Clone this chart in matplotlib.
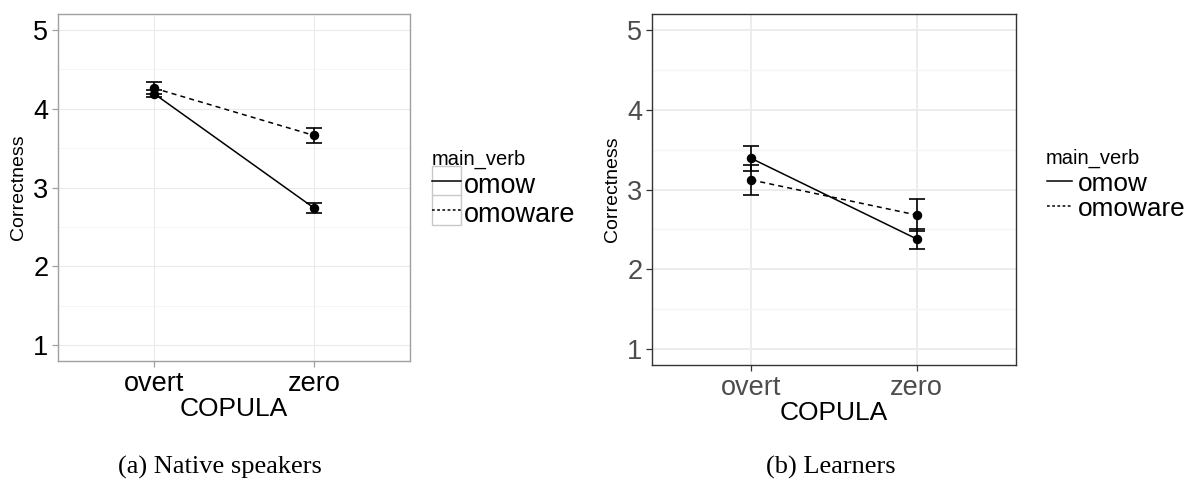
import numpy as np
import matplotlib.pyplot as plt
from matplotlib.lines import Line2D
from matplotlib.patches import Rectangle
from matplotlib.legend_handler import HandlerLine2D

plt.rcParams['font.family'] = ['Liberation Sans', 'DejaVu Sans']

copula = ['overt', 'zero']
verbs = ['omow', 'omoware']

# (a) native speakers
native_omow = [4.19, 2.74]
native_omow_se = [0.04, 0.065]
native_omoware = [4.26, 3.66]
native_omoware_se = [0.08, 0.09]

# (b) learners
learner_omow = [3.39, 2.38]
learner_omow_se = [0.16, 0.13]
learner_omoware = [3.12, 2.68]
learner_omoware_se = [0.19, 0.20]

y_ticks = [1, 2, 3, 4, 5]
captions = ['(a) Native speakers', '(b) Learners']

W, H = 1192, 482
DASH = (3.3, 2.7)


class BoxedKey(HandlerLine2D):
    # legend key with a light grey square around it, centred on the key line
    def create_artists(self, legend, orig_handle, xdescent, ydescent,
                       width, height, fontsize, trans):
        arts = super().create_artists(legend, orig_handle, xdescent, ydescent,
                                      width, height, fontsize, trans)
        yc = (height - ydescent) / 2.0
        box = Rectangle((-xdescent, yc - height / 2.0), width, height, transform=trans,
                        facecolor='white', edgecolor='#c8c8c8', lw=1.0)
        return [box] + arts


def px_axes(fig, x0, y0, x1, y1):
    return fig.add_axes([x0 / W, 1 - y1 / H, (x1 - x0) / W, (y1 - y0) / H])


def draw_panel(ax, series, tick_col, spine_col, grid_lw):
    x = np.arange(1, len(copula) + 1)
    for (mean, se), ls in zip(series, ['-', '--']):
        line, = ax.plot(x, mean, color='black', lw=1.1, ls=ls, zorder=3)
        if ls == '--':
            line.set_dashes(DASH)
        ax.errorbar(x, mean, yerr=se, fmt='o', color='black', ms=5.8,
                    capsize=5.8, capthick=1.2, elinewidth=1.2, zorder=4)
    ax.set_xlim(0.4, 2.6)
    ax.set_ylim(0.8, 5.2)
    ax.set_xticks(x)
    ax.set_xticklabels(copula)
    ax.set_yticks(y_ticks)
    ax.set_yticks(np.arange(1.5, 5, 1), minor=True)
    ax.set_xticks([], minor=True)
    ax.grid(True, which='major', color='#ebebeb', lw=grid_lw, zorder=0)
    ax.grid(True, which='minor', axis='y', color='#f4f4f4', lw=grid_lw * 0.8, zorder=0)
    ax.set_axisbelow(True)
    ax.tick_params(which='major', length=4, width=0.9, color=spine_col,
                   labelsize=19.5, labelcolor=tick_col, pad=3)
    ax.tick_params(which='minor', length=0)
    for s in ax.spines.values():
        s.set_color(spine_col)
        s.set_linewidth(1.0)
    ax.set_xlabel('COPULA', fontsize=19, va='center')
    ax.set_ylabel('Correctness', fontsize=14, va='center')


def legend_handles():
    solid = Line2D([], [], color='black', lw=1.1, ls='-')
    dashed = Line2D([], [], color='black', lw=1.1, ls='--', dashes=(1.8, 1.6))
    return [solid, dashed]


fig = plt.figure(figsize=(W / 100, H / 100), dpi=100)

# left panel
ax1 = px_axes(fig, 58, 14, 410, 361)
draw_panel(ax1, [(native_omow, native_omow_se), (native_omoware, native_omoware_se)],
           'black', '#a0a0a0', 0.8)
ax1.xaxis.set_label_coords(0.5, -(409 - 361) / 347)
ax1.yaxis.set_label_coords(-(58 - 19) / 352, 0.5)

fig.text(432 / W, 1 - 159 / H, 'main_verb', fontsize=14.5, ha='left', va='center')
leg1 = ax1.legend(legend_handles(), verbs, loc='upper left',
                  bbox_to_anchor=(432 / W, 1 - 169 / H), bbox_transform=fig.transFigure,
                  frameon=False, fontsize=19.5,
                  handlelength=1.06, handleheight=1.36, handletextpad=0.12,
                  labelspacing=-0.07, borderpad=0, borderaxespad=0,
                  handler_map={Line2D: BoxedKey()})

# right panel
ax2 = px_axes(fig, 652, 14, 1016, 365)
draw_panel(ax2, [(learner_omow, learner_omow_se), (learner_omoware, learner_omoware_se)],
           '#4d4d4d', '#333333', 1.3)
ax2.xaxis.set_label_coords(0.5, -(413 - 365) / 351)
ax2.yaxis.set_label_coords(-(652 - 612) / 364, 0.5)

fig.text(1046 / W, 1 - 158 / H, 'main_verb', fontsize=14.5, ha='left', va='center')
leg2 = ax2.legend(legend_handles(), verbs, loc='upper left',
                  bbox_to_anchor=(1047 / W, 1 - 171 / H), bbox_transform=fig.transFigure,
                  frameon=False, fontsize=18.8,
                  handlelength=0.95, handleheight=0.9, handletextpad=0.25,
                  labelspacing=0.0, borderpad=0, borderaxespad=0)

# captions under the panels
fig.text(220 / W, 1 - 467 / H, captions[0], ha='center', va='center',
         fontsize=19, family=['Liberation Serif', 'DejaVu Serif'])
fig.text(831 / W, 1 - 467 / H, captions[1], ha='center', va='center',
         fontsize=19, family=['Liberation Serif', 'DejaVu Serif'])

fig.savefig('out.png', dpi=100, facecolor='white')
